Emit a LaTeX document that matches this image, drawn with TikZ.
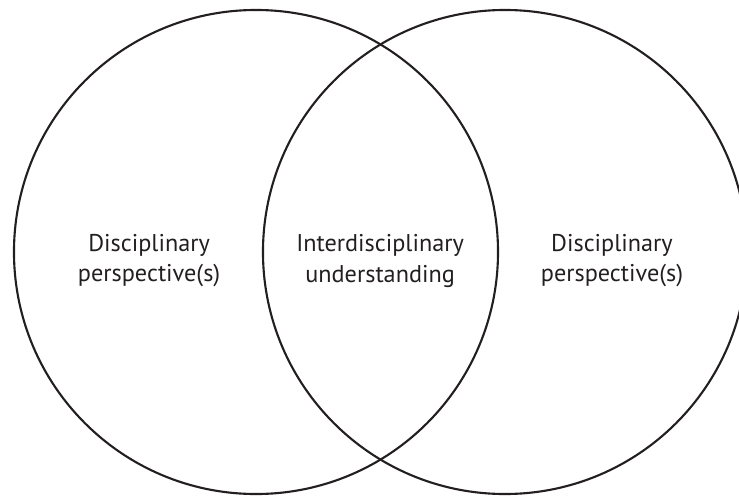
\documentclass[tikz,border=0pt]{standalone}
\usepackage{fontspec}
\setmainfont{PT Sans}
\definecolor{inkgray}{HTML}{231F20}

\begin{document}
\begin{tikzpicture}[
  label text/.style={align=center, text=inkgray, font=\fontsize{23}{28.5}\selectfont}
]

\useasboundingbox (0,0) rectangle (24.633,16.5);
\clip (0,0) rectangle (24.633,16.5);

\draw[inkgray, line width=2pt] (8.533, 8.1) circle (8.067);
\draw[inkgray, line width=2pt] (16.833, 8.1) circle (8.067);

\node[label text] (leftlabel)  at (4.97, 7.8)  {Disciplinary\\perspective(s)};
\node[label text] (midlabel)   at (12.67, 7.8) {Interdisciplinary\\understanding};
\node[label text] (rightlabel) at (20.4, 7.8)  {Disciplinary\\perspective(s)};

\end{tikzpicture}
\end{document}
